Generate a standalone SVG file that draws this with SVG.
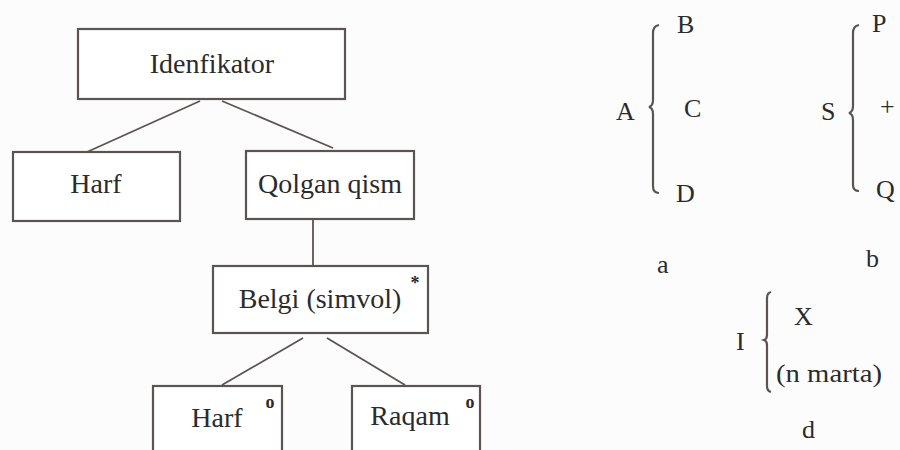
<svg xmlns="http://www.w3.org/2000/svg" width="900" height="450" viewBox="0 0 900 450">
<style>
.box{fill:#ffffff;stroke:#5a5552;stroke-width:2.2}
text{font-family:"Liberation Serif","DejaVu Serif",serif;fill:#2b2b2b}
.lbl{font-size:28px;text-anchor:middle}
.sym{font-size:26px}
.sup{font-size:18px;font-weight:bold;text-anchor:middle}
.con{stroke:#5a5552;stroke-width:1.8;fill:none}
.brace{stroke:#5a5552;stroke-width:2.2;fill:none}
</style>
<rect width="900" height="450" fill="#fcfcfc"/>
<g id="connectors">
<line class="con" x1="200" y1="101" x2="87" y2="152"/>
<line class="con" x1="222" y1="101" x2="333" y2="148"/>
<line class="con" x1="313" y1="220" x2="313" y2="266"/>
<line class="con" x1="303" y1="338" x2="222" y2="385"/>
<line class="con" x1="327" y1="338" x2="405" y2="385"/>
</g>
<g id="idenfikator">
<rect class="box" x="78" y="29" width="267" height="70"/>
<text class="lbl" x="212" y="73">Idenfikator</text>
</g>
<g id="harf1">
<rect class="box" x="13" y="152" width="167" height="69"/>
<text class="lbl" x="96" y="193">Harf</text>
</g>
<g id="qolgan">
<rect class="box" x="246" y="151" width="168" height="68"/>
<text class="lbl" x="330" y="193">Qolgan qism</text>
</g>
<g id="belgi">
<rect class="box" x="213" y="266" width="215" height="67"/>
<text class="lbl" x="320" y="308">Belgi (simvol)</text>
<text class="sup" x="415" y="289">*</text>
</g>
<g id="harf2">
<rect class="box" x="153" y="386" width="129" height="80"/>
<text class="lbl" x="217" y="427">Harf</text>
<text class="sup" x="270" y="408">o</text>
</g>
<g id="raqam">
<rect class="box" x="352" y="386" width="128" height="80"/>
<text class="lbl" x="410" y="425">Raqam</text>
<text class="sup" x="470" y="408">o</text>
</g>
<g id="diagram-a">
<text class="sym" x="616" y="120">A</text>
<path class="brace" d="M659,25 Q653,26 653,33 L653,100 Q653,106 649,107 Q653,108 653,114 L653,186 Q653,193 659,193"/>
<text class="sym" x="677" y="33">B</text>
<text class="sym" x="684" y="117">C</text>
<text class="sym" x="676" y="202">D</text>
<text class="sym" x="657" y="273">a</text>
</g>
<g id="diagram-b">
<text class="sym" x="821" y="120">S</text>
<path class="brace" d="M859,25 Q853,26 853,33 L853,106 Q853,112 849,113 Q853,114 853,120 L853,185 Q853,191 859,191"/>
<text class="sym" x="872" y="32">P</text>
<text class="sym" x="880" y="115">+</text>
<text class="sym" x="876" y="198">Q</text>
<text class="sym" x="866" y="267">b</text>
</g>
<g id="diagram-d">
<text class="sym" x="736" y="350">I</text>
<path class="brace" d="M771,292 Q767,293 767,298 L767,335 Q767,339 764,340 Q767,341 767,345 L767,386 Q767,391 771,392"/>
<text class="sym" x="794" y="325">X</text>
<text class="sym" x="776" y="382" textLength="106" lengthAdjust="spacingAndGlyphs">(n marta)</text>
<text class="sym" x="802" y="438">d</text>
</g>
</svg>
